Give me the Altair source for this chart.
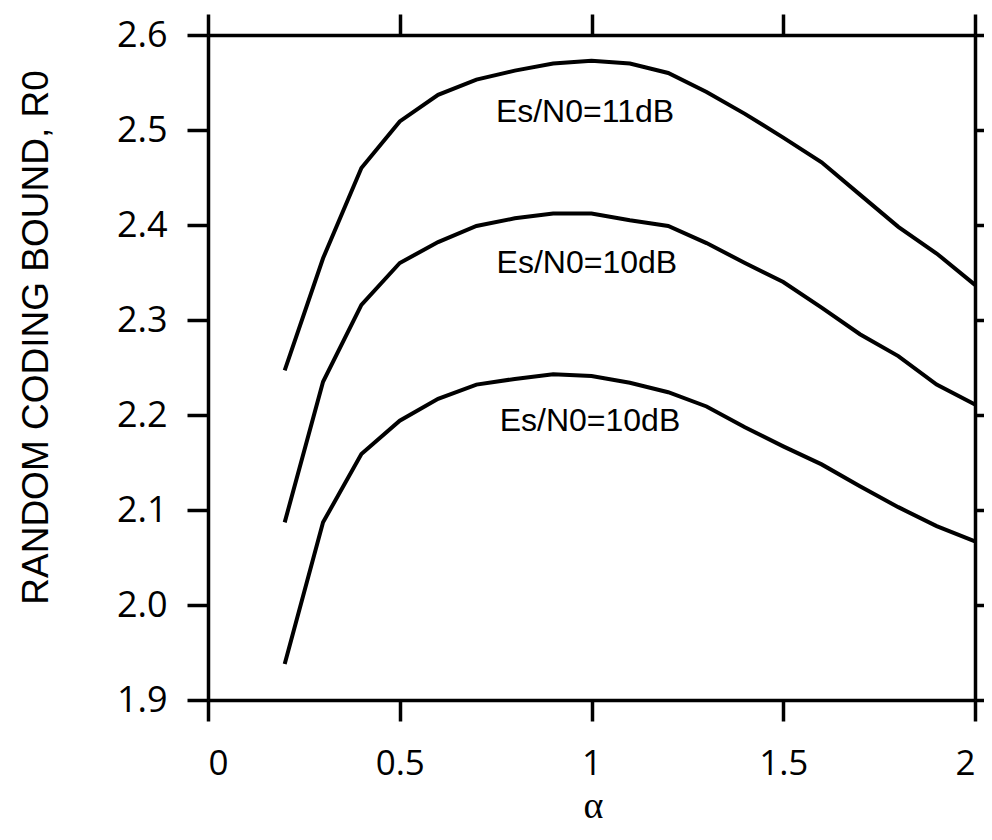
import altair as alt
import pandas as pd

alpha = [0.2, 0.3, 0.4, 0.5, 0.6, 0.7, 0.8, 0.9, 1.0, 1.1,
         1.2, 1.3, 1.4, 1.5, 1.6, 1.7, 1.8, 1.9, 2.0]
r0_11dB = [2.247, 2.365, 2.460, 2.509, 2.537, 2.553, 2.5625, 2.570, 2.573, 2.570,
           2.560, 2.540, 2.517, 2.492, 2.466, 2.432, 2.398, 2.370, 2.337]
r0_10dB_a = [2.087, 2.235, 2.316, 2.360, 2.382, 2.399, 2.407, 2.412, 2.412, 2.405,
             2.399, 2.381, 2.360, 2.340, 2.313, 2.285, 2.262, 2.232, 2.211]
r0_10dB_b = [1.938, 2.087, 2.159, 2.194, 2.217, 2.232, 2.238, 2.243, 2.241, 2.234,
             2.224, 2.209, 2.187, 2.167, 2.148, 2.125, 2.103, 2.083, 2.067]

label_text = ["Es/N0=11dB", "Es/N0=10dB", "Es/N0=10dB"]
label_alpha = [0.983, 0.988, 0.996]
label_r0 = [2.519, 2.3605, 2.1935]

x_ticks = [0, 0.5, 1, 1.5, 2]
y_ticks = [1.9, 2.0, 2.1, 2.2, 2.3, 2.4, 2.5, 2.6]

rows = []
for name, vals in [("a", r0_11dB), ("b", r0_10dB_a), ("c", r0_10dB_b)]:
    for a, v in zip(alpha, vals):
        rows.append({"alpha": a, "r0": v, "series": name})
df = pd.DataFrame(rows)
labels_df = pd.DataFrame({"text": label_text, "alpha": label_alpha, "r0": label_r0})

xscale = alt.Scale(domain=[0, 2], nice=False, zero=False)
yscale = alt.Scale(domain=[1.9, 2.6], nice=False, zero=False)

tick_common = dict(grid=False, domainColor="black", domainWidth=3.5, tickColor="black",
                   tickWidth=3.5, tickSize=21)

lines = alt.Chart(df).mark_line(color="black", strokeWidth=4).encode(
    x=alt.X("alpha:Q", scale=xscale,
            axis=alt.Axis(orient="bottom", values=x_ticks, format="~g", title="α",
                          labelFont="Open Sans", labelFontSize=35, labelColor="black",
                          labelPadding=25, titleFont="Liberation Serif", titleFontSize=38,
                          titleFontWeight="normal", titleColor="black",
                          titleX=385, titleY=117, titleBaseline="alphabetic",
                          **tick_common)),
    y=alt.Y("r0:Q", scale=yscale,
            axis=alt.Axis(orient="left", values=y_ticks, format=".1f",
                          title="RANDOM CODING BOUND, R0",
                          labelFont="Open Sans", labelFontSize=36, labelColor="black",
                          labelPadding=20, titleFont="Liberation Sans", titleFontSize=37,
                          titleFontWeight="normal", titleColor="black",
                          titleX=-161, titleY=302, titleBaseline="alphabetic",
                          titleAngle=270, **tick_common)),
    detail="series:N",
)

texts = alt.Chart(labels_df).mark_text(
    font="Liberation Sans", fontSize=32, color="black", align="center", baseline="middle"
).encode(
    x=alt.X("alpha:Q", scale=xscale,
            axis=alt.Axis(orient="top", values=x_ticks, labels=False, title=None,
                          **tick_common)),
    y=alt.Y("r0:Q", scale=yscale,
            axis=alt.Axis(orient="right", values=y_ticks, labels=False, title=None,
                          **tick_common)),
    text="text:N",
)

chart = alt.layer(lines, texts).resolve_axis(x="independent", y="independent").properties(
    width=767, height=665,
    autosize=alt.AutoSizeParams(type="none"),
    padding={"left": 200, "top": 27, "right": 9, "bottom": 132},
).configure_view(stroke=None).configure(background="white")

chart.save("out.html", embed_options={"renderer": "svg", "actions": False})
